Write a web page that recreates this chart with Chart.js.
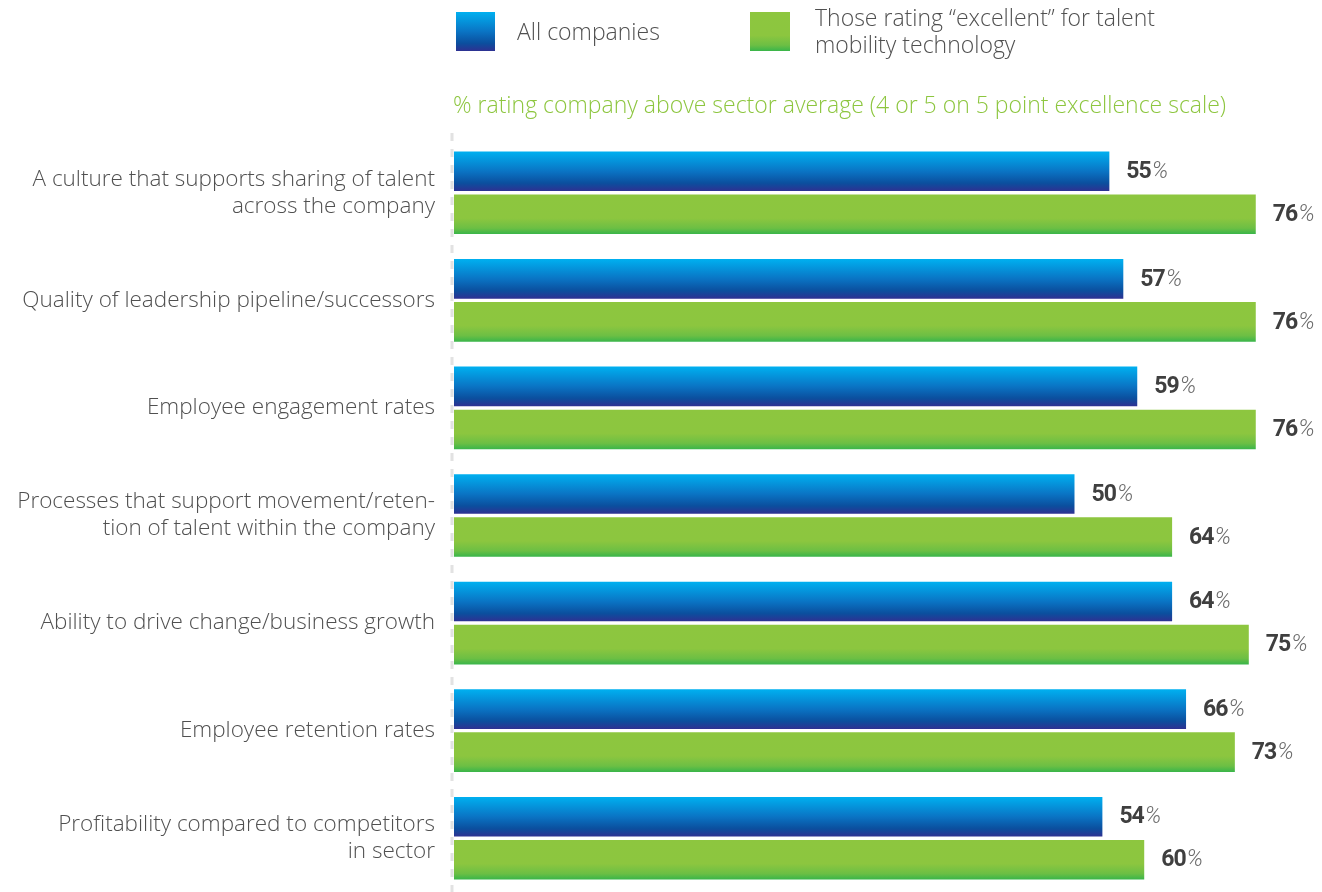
<!DOCTYPE html>
<html>
<head>
<meta charset="utf-8">
<script src="https://cdn.jsdelivr.net/npm/chart.js@4.4.1/dist/chart.umd.min.js"></script>
<style>
  html, body { margin: 0; padding: 0; background: #fff; overflow: hidden; }
  #wrap { width: 1322px; height: 892px; position: relative; }
</style>
</head>
<body>
<div id="wrap"><canvas id="chart"></canvas></div>
<script>
// chart data
const categories = [
  ['A culture that supports sharing of talent', 'across the company'],
  'Quality of leadership pipeline/successors',
  'Employee engagement rates',
  ['Processes that support movement/reten-', 'tion of talent within the company'],
  'Ability to drive change/business growth',
  'Employee retention rates',
  ['Profitability compared to competitors', 'in sector']
];
const allCompanies = [55, 57, 59, 50, 64, 66, 54];
const excellentTech = [76, 76, 76, 64, 75, 73, 60];
const seriesNames = ['All companies', ['Those rating \u201cexcellent\u201d for talent', 'mobility technology']];
const subtitle = '% rating company above sector average (4 or 5 on 5 point excellence scale)';

const FONT = '"Open Sans", Roboto, sans-serif';
const NUMFONT = 'Roboto, "Liberation Sans", sans-serif';
const gradStops = [
  [[0, '#00b0f0'], [0.5, '#0a74c4'], [0.8, '#0b4f9e'], [1, '#2e3192']],
  [[0, '#8dc63f'], [0.6, '#8cc63f'], [0.85, '#6cbf44'], [1, '#39b54a']]
];

function makeGrad(ctx, top, bottom, stops) {
  const g = ctx.createLinearGradient(0, top, 0, bottom);
  stops.forEach(s => g.addColorStop(s[0], s[1]));
  return g;
}

const decorPlugin = {
  id: 'decor',
  beforeDatasetsDraw(chart) {
    const ctx = chart.ctx;
    const area = chart.chartArea;
    // dashed axis line
    ctx.save();
    ctx.strokeStyle = '#e2e2e2';
    ctx.lineWidth = 3;
    ctx.setLineDash([8, 8]);
    ctx.beginPath();
    ctx.moveTo(area.left - 2, 133);
    ctx.lineTo(area.left - 2, area.bottom);
    ctx.stroke();
    ctx.restore();
    // gradient fill per bar
    chart.data.datasets.forEach((ds, di) => {
      chart.getDatasetMeta(di).data.forEach(bar => {
        const top = bar.y - bar.height / 2;
        const g = makeGrad(ctx, top, top + bar.height, gradStops[di]);
        bar.options = Object.assign({}, bar.options, { backgroundColor: g });
      });
    });
  },
  afterDatasetsDraw(chart) {
    const ctx = chart.ctx;
    ctx.save();
    ctx.textBaseline = 'middle';
    chart.data.datasets.forEach((ds, di) => {
      chart.getDatasetMeta(di).data.forEach((bar, i) => {
        const x = bar.x + 17;
        const y = bar.y + 1;
        ctx.font = 'bold 23px ' + NUMFONT;
        ctx.fillStyle = '#3f3f3f';
        ctx.letterSpacing = '-1px';
        const num = String(ds.data[i]);
        ctx.fillText(num, x, y);
        const w = ctx.measureText(num).width;
        ctx.letterSpacing = '0px';
        ctx.font = 'italic 300 23px ' + NUMFONT;
        ctx.fillStyle = '#6a6a6a';
        ctx.fillText('%', x + w + 1, y);
      });
    });
    ctx.restore();
  },
  afterDraw(chart) {
    const ctx = chart.ctx;
    ctx.save();
    // legend
    ctx.fillStyle = makeGrad(ctx, 12, 51, gradStops[0]);
    ctx.fillRect(456, 12, 39, 39);
    ctx.fillStyle = makeGrad(ctx, 12, 51, gradStops[1]);
    ctx.fillRect(750, 12, 40, 39);
    ctx.font = '300 23px ' + FONT;
    ctx.fillStyle = '#505050';
    ctx.textBaseline = 'middle';
    ctx.fillText(seriesNames[0], 517, 33);
    ctx.fillText(seriesNames[1][0], 815, 19);
    ctx.fillText(seriesNames[1][1], 815, 46);
    // subtitle
    ctx.font = '300 23px ' + FONT;
    ctx.fillStyle = '#8dc63f';
    ctx.fillText(subtitle, 453, 106);
    ctx.restore();
  }
};

new Chart(document.getElementById('chart'), {
  type: 'bar',
  data: {
    labels: categories,
    datasets: [{
      label: 'All companies',
      data: allCompanies,
      backgroundColor: '#0a74c4',
      base: -39,
      categoryPercentage: 0.8,
      barPercentage: 0.92
    }, {
      label: 'Those rating excellent',
      data: excellentTech,
      backgroundColor: '#8dc63f',
      base: -39,
      categoryPercentage: 0.8,
      barPercentage: 0.92
    }]
  },
  options: {
    indexAxis: 'y',
    responsive: true,
    maintainAspectRatio: false,
    animation: false,
    layout: { padding: { top: 139, right: 0, bottom: 0, left: 0 } },
    plugins: {
      legend: { display: false },
      tooltip: { enabled: false }
    },
    scales: {
      x: {
        display: false,
        min: -39,
        max: 85.5
      },
      y: {
        grid: { display: false, drawTicks: false },
        border: { display: false },
        afterFit: (scale) => {
          scale.width = 454;
          scale.paddingTop = 0;
          scale.paddingBottom = 0;
        },
        ticks: {
          padding: 19,
          color: '#505050',
          font: { family: FONT, size: 22.5, weight: '300', lineHeight: 1.2 }
        }
      }
    }
  },
  plugins: [decorPlugin]
});
</script>
</body>
</html>
